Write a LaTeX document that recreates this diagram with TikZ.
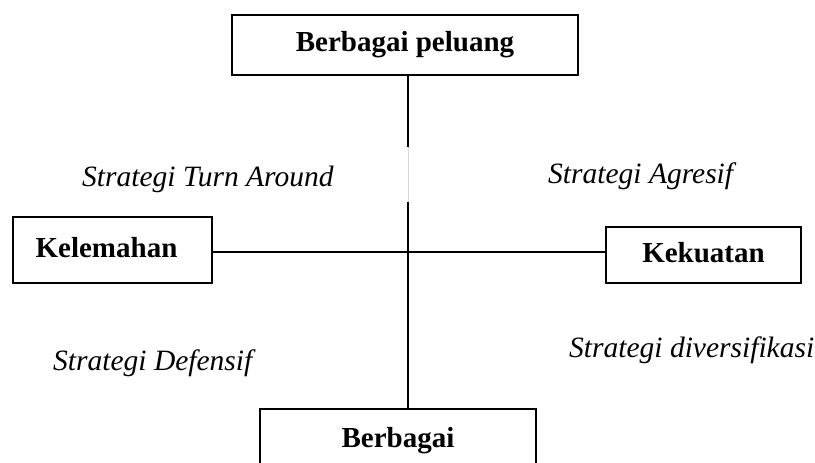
\documentclass[tikz,border=0pt]{standalone}
\usepackage{fontspec}
\setmainfont{Liberation Serif}
\begin{document}
\begin{tikzpicture}[x=1pt,y=-1pt,
  box/.style={draw=black, line width=2.6pt, fill=white, inner sep=0pt,
    font=\fontsize{29}{34}\selectfont\bfseries, text height=20pt, text depth=6pt},
  lbl/.style={inner sep=0pt, anchor=base west, font=\fontsize{29.5}{34}\selectfont\itshape},
  conn/.style={line width=1.3pt, draw=black}]
\useasboundingbox (0,0) rectangle (815,463);
\coordinate (c) at (408,252);
\coordinate (gapA) at (408,147);
\coordinate (gapB) at (408,202);
\node[box, minimum width=346pt, minimum height=60pt] (peluang) at (405,45) {Berbagai peluang};
\node[box, minimum width=199pt, minimum height=66pt] (kel) at (112.5,250) {Kelemahan\hspace*{12pt}};
\node[box, minimum width=195pt, minimum height=56pt] (kek) at (703.5,255) {Kekuatan};
\node[box, minimum width=276pt, minimum height=62pt] (ancaman) at (398,440) {Berbagai};
\draw[conn] (peluang.south -| c) -- (gapA);
\draw[line width=1pt, draw=black!15] (gapA) -- (gapB);
\draw[conn] (gapB) -- (ancaman.north -| c);
\draw[conn] (kel.east |- c) -- (kek.west |- c);
\node[lbl] (ta) at (82,186) {Strategi Turn Around};
\node[lbl] (ag) at (548,183) {Strategi Agresif};
\node[lbl] (df) at (53,370) {Strategi Defensif};
\node[lbl] (dv) at (569,357) {Strategi diversifikasi};
\end{tikzpicture}
\end{document}
